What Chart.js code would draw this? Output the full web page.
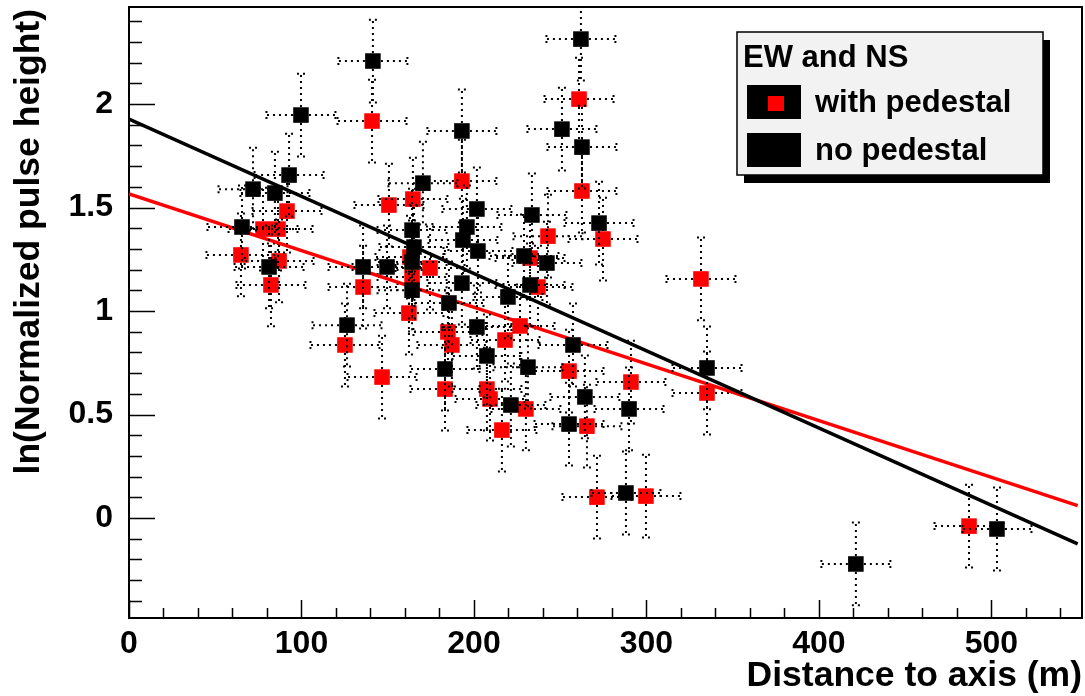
<!DOCTYPE html>
<html>
<head>
<meta charset="utf-8">
<script src="https://cdn.jsdelivr.net/npm/chart.js@4.4.1/dist/chart.umd.min.js"></script>
<style>
  html, body { margin: 0; padding: 0; background: #fff; }
  #wrap { width: 1085px; height: 696px; }
</style>
</head>
<body>
<div id="wrap"><canvas id="pulseChart" width="1085" height="696"></canvas></div>
<script>
// Values: distance to shower axis (m) vs ln(normalized pulse height)
const pedX = [64.9, 77.7, 86.4, 87.0, 82.3, 91.6, 140.9, 125.2, 146.7, 135.7, 150.7, 164.6, 193.0,
  162.3, 183.2, 184.9, 187.2, 162.9, 174.5, 164.1, 232.5, 237.1, 226.7, 218.0, 255.1, 207.5, 209.3,
  230.1, 265.5, 216.2, 260.9, 262.6, 242.9, 274.8, 291.0, 271.3, 299.7, 331.6, 335.1, 487.0];
const pedY = [1.271, 1.396, 1.396, 1.242, 1.126, 1.483, 1.918, 0.836, 0.681, 1.116, 1.512, 1.541, 1.628,
  0.990, 0.623, 0.899, 0.836, 1.261, 1.208, 1.164, 1.256, 1.116, 0.928, 0.860, 0.710, 0.623, 0.575,
  0.527, 0.444, 0.425, 2.024, 1.580, 1.362, 1.348, 0.657, 0.101, 0.106, 1.155, 0.604, -0.039];

const noPedX = [65.5, 71.9, 84.6, 92.8, 99.7, 81.2, 141.4, 126.4, 135.7, 149.6, 170.4, 164.1, 165.2,
  164.1, 164.1, 183.2, 185.5, 193.0, 193.6, 195.9, 193.0, 201.7, 202.3, 201.7, 207.5, 219.7, 221.4,
  229.0, 231.3, 232.5, 233.6, 242.3, 251.0, 257.4, 255.1, 262.0, 262.6, 264.3, 272.5, 288.1, 289.9,
  335.1, 421.4, 503.2];
const noPedY = [1.406, 1.589, 1.570, 1.657, 1.947, 1.213, 2.208, 0.932, 1.213, 1.213, 1.618, 1.391, 1.309,
  1.237, 1.101, 0.720, 1.039, 1.135, 1.343, 1.406, 1.870, 1.493, 1.290, 0.923, 0.783, 1.068, 0.546,
  1.266, 0.729, 1.126, 1.464, 1.232, 1.879, 0.836, 0.454, 2.314, 1.792, 0.585, 1.425, 0.121, 0.527,
  0.725, -0.222, -0.053];

const xErr = 20;   // m
const yErr = 0.2;

// straight-line fits, evaluated at both ends of the range
const fitX = [0, 550];
const pedFitY = [1.566, 0.060];
const noPedFitY = [1.927, -0.125];

const xTicks = [0, 100, 200, 300, 400, 500];
const xTickLabels = ["0", "100", "200", "300", "400", "500"];
const yTicks = [0, 0.5, 1, 1.5, 2];
const yTickLabels = ["0", "0.5", "1", "1.5", "2"];

const FONT = '"Liberation Sans", Arial, Helvetica, sans-serif';

const toPoints = (xs, ys) => xs.map((v, i) => ({ x: v, y: ys[i] }));

// frame + ROOT style inward ticks
const frameTicks = {
  id: "frameTicks",
  beforeDatasetsDraw(chart) {
    const { ctx, chartArea: a, scales: { x, y } } = chart;
    ctx.save();
    ctx.strokeStyle = "#000";
    ctx.lineWidth = 2;
    ctx.strokeRect(a.left, a.top, a.right - a.left, a.bottom - a.top);
    ctx.lineWidth = 1.5;
    ctx.beginPath();
    for (let v = 0; v <= x.max; v += 20) {
      const px = Math.round(x.getPixelForValue(v)) + 0.5;
      const len = v % 100 === 0 ? 18 : 10;
      ctx.moveTo(px, a.bottom);
      ctx.lineTo(px, a.bottom - len);
    }
    for (let i = -4; i <= 24; i++) {
      const py = Math.round(y.getPixelForValue(i / 10)) + 0.5;
      const len = i % 5 === 0 ? 26 : 13;
      ctx.moveTo(a.left, py);
      ctx.lineTo(a.left + len, py);
    }
    ctx.stroke();
    ctx.restore();
  },
};

// dotted error bars, drawn right after each point dataset
const errorBars = {
  id: "errorBars",
  afterDatasetDraw(chart, args) {
    const ds = chart.data.datasets[args.index];
    if (ds.errX === undefined) return;
    const { ctx, chartArea: a, scales: { x, y } } = chart;
    const gap = 8, cap = 4;
    ctx.save();
    ctx.beginPath();
    ctx.rect(a.left, a.top + 4, a.right - a.left, a.bottom - a.top - 4);
    ctx.clip();
    ctx.strokeStyle = "#000";
    ctx.lineWidth = 2;
    ctx.setLineDash([2, 4]);
    ctx.beginPath();
    ds.data.forEach((p) => {
      const cx = x.getPixelForValue(p.x), cy = y.getPixelForValue(p.y);
      const x0 = x.getPixelForValue(p.x - ds.errX), x1 = x.getPixelForValue(p.x + ds.errX);
      const y0 = y.getPixelForValue(p.y + ds.errY), y1 = y.getPixelForValue(p.y - ds.errY);
      ctx.moveTo(cx - gap, cy); ctx.lineTo(x0, cy);
      ctx.moveTo(cx + gap, cy); ctx.lineTo(x1, cy);
      ctx.moveTo(cx, cy - gap); ctx.lineTo(cx, y0);
      ctx.moveTo(cx, cy + gap); ctx.lineTo(cx, y1);
      ctx.moveTo(x0, cy - cap); ctx.lineTo(x0, cy + cap);
      ctx.moveTo(x1, cy - cap); ctx.lineTo(x1, cy + cap);
      ctx.moveTo(cx - cap, y0); ctx.lineTo(cx + cap, y0);
      ctx.moveTo(cx - cap, y1); ctx.lineTo(cx + cap, y1);
    });
    ctx.stroke();
    ctx.restore();
  },
};

// axis titles and the boxed legend
const decorations = {
  id: "decorations",
  afterDraw(chart) {
    const { ctx, chartArea: a } = chart;
    ctx.save();
    ctx.fillStyle = "#000";
    ctx.font = "bold 35.5px " + FONT;
    ctx.textAlign = "right";
    ctx.textBaseline = "alphabetic";
    ctx.fillText("Distance to axis (m)", a.right, 686);

    ctx.save();
    ctx.translate(39, 9);
    ctx.rotate(-Math.PI / 2);
    ctx.fillText("ln(Normalized pulse height)", 0, 0);
    ctx.restore();

    // legend box with drop shadow
    const lx = 737, ly = 32, lw = 306, lh = 143;
    ctx.fillStyle = "#000";
    ctx.fillRect(lx + 7, ly + 8, lw, lh);
    ctx.fillStyle = "#f2f2f2";
    ctx.fillRect(lx, ly, lw, lh);
    ctx.strokeStyle = "#000";
    ctx.lineWidth = 1.5;
    ctx.strokeRect(lx, ly, lw, lh);

    const sets = chart.data.datasets;
    ctx.textAlign = "left";
    ctx.fillStyle = "#000";
    ctx.font = "bold 31px " + FONT;
    ctx.fillText("EW and NS", 743, 67);

    ctx.fillRect(747, 85, 54, 34);
    ctx.fillStyle = sets[0].backgroundColor;
    ctx.fillRect(768, 96, 16, 15);
    ctx.fillStyle = "#000";
    ctx.fillText(sets[0].label, 815, 112);

    ctx.fillRect(747, 133, 54, 34);
    ctx.fillText(sets[2].label, 815, 160);
    ctx.restore();
  },
};

const tickFont = { family: FONT, size: 32, weight: "bold", lineHeight: 1 };

new Chart(document.getElementById("pulseChart"), {
  type: "scatter",
  data: {
    datasets: [
      {
        label: "with pedestal",
        data: toPoints(pedX, pedY),
        errX: xErr,
        errY: yErr,
        pointStyle: "rect",
        pointRadius: 11,
        pointHoverRadius: 11,
        backgroundColor: "#ff0000",
        borderColor: "#ff0000",
        borderWidth: 0,
        order: 4,
      },
      {
        label: "fit with pedestal",
        type: "line",
        data: toPoints(fitX, pedFitY),
        borderColor: "#ff0000",
        borderWidth: 3.5,
        pointRadius: 0,
        fill: false,
        order: 3,
      },
      {
        label: "no pedestal",
        data: toPoints(noPedX, noPedY),
        errX: xErr,
        errY: yErr,
        pointStyle: "rect",
        pointRadius: 11,
        pointHoverRadius: 11,
        backgroundColor: "#000000",
        borderColor: "#000000",
        borderWidth: 0,
        order: 2,
      },
      {
        label: "fit no pedestal",
        type: "line",
        data: toPoints(fitX, noPedFitY),
        borderColor: "#000000",
        borderWidth: 3.5,
        pointRadius: 0,
        fill: false,
        order: 1,
      },
    ],
  },
  options: {
    responsive: false,
    devicePixelRatio: 1,
    animation: false,
    layout: { autoPadding: false, padding: { top: 7, right: 3, left: 0, bottom: 0 } },
    plugins: { legend: { display: false }, tooltip: { enabled: false } },
    scales: {
      x: {
        type: "linear",
        min: 0,
        max: 552.5,
        grid: { display: false },
        border: { display: false },
        afterBuildTicks: (s) => { s.ticks = xTicks.map((v) => ({ value: v })); },
        afterFit: (s) => { s.height = 78; s.paddingLeft = 0; s.paddingRight = 0; },
        ticks: {
          font: tickFont,
          color: "#000",
          padding: 2,
          autoSkip: false,
          maxRotation: 0,
          callback: (v) => xTickLabels[xTicks.indexOf(v)],
        },
      },
      y: {
        type: "linear",
        min: -0.483,
        max: 2.469,
        grid: { display: false },
        border: { display: false },
        afterBuildTicks: (s) => { s.ticks = yTicks.map((v) => ({ value: v })); },
        afterFit: (s) => { s.width = 129; s.paddingTop = 0; s.paddingBottom = 0; },
        ticks: {
          font: tickFont,
          color: "#000",
          padding: 8,
          autoSkip: false,
          callback: (v) => yTickLabels[yTicks.indexOf(v)],
        },
      },
    },
  },
  plugins: [frameTicks, errorBars, decorations],
});
</script>
</body>
</html>
